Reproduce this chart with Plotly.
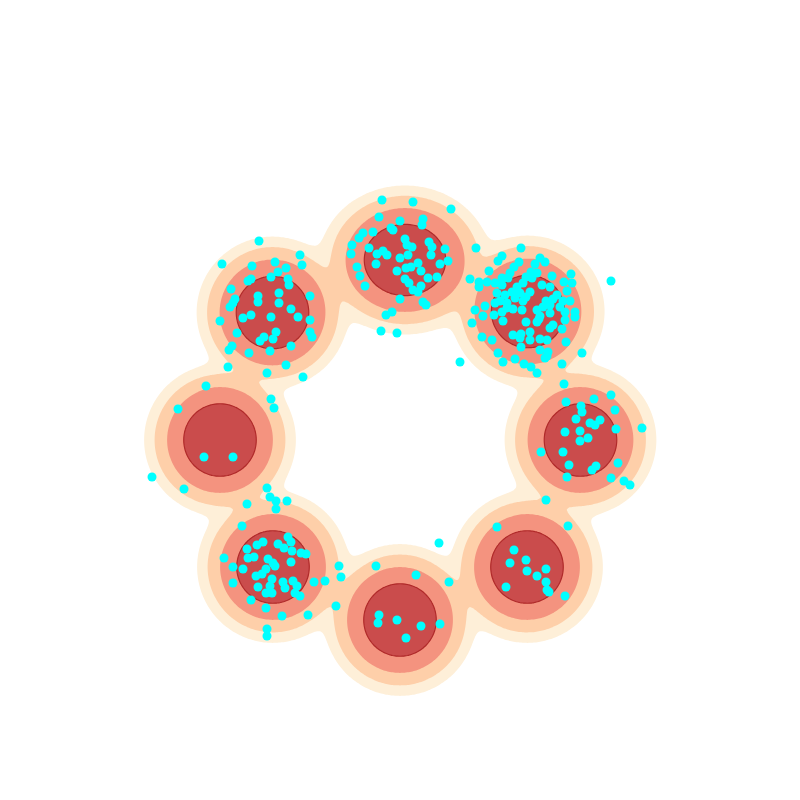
import numpy as np
import plotly.graph_objects as go

# ---- mixture components of the density (plot coordinates, y grows downward) ----
comp_cx = [405, 528, 580.5, 527, 400, 273, 220, 272.5]
comp_cy = [260, 311.5, 440, 567, 620, 567, 440, 312.5]
comp_sx = [24.7, 22.2, 22, 22, 22, 22, 22, 22]
comp_sy = [21.6, 22, 22, 22, 22, 22, 22, 22]

# log-density contour levels
level_start = -5.95
level_size = 1.53
level_end = -1.35
band_colors = ["#ffffff", "#feefd8", "#fecfa9", "#f4937f", "#ca4c4c"]

# ---- sample points ----
top_pts = [(382,200),(413,202),(451,209),(379,217),(400,221),(423,219),(422,225),(391,228),
           (393,230),(363,233),(373,232),(359,238),(405,239),(429,242),(352,245),(369,248),
           (407,245),(412,247),(432,247),(445,249),(383,251),(351,254),(377,254),(387,255),
           (408,255),(400,258),(431,255),(448,261),(440,264),(376,264),(418,263),(411,267),
           (406,268),(357,267),(421,271),(397,271),(360,276),(437,277),(428,278),(405,279),
           (409,283),(365,286),(421,286),(413,290),(418,292),(400,299),(423,302),(426,305),
           (392,312),(386,315),(381,331),(397,333)]
top_right_pts = [(476,248),(521,248),(502,256),(498,261),(540,258),(545,262),(519,262),(535,264),
                 (514,267),(489,271),(531,272),(510,273),(571,274),(470,279),(502,278),(526,277),
                 (537,273),(552,276),(479,282),(495,283),(479,287),(611,281),(564,282),(572,283),
                 (517,287),(523,283),(542,285),(550,287),(530,292),(520,293),(567,291),(497,293),
                 (505,295),(526,297),(515,298),(500,301),(546,301),(553,299),(570,301),(495,303),
                 (507,303),(523,301),(485,306),(560,307),(513,309),(522,310),(537,310),(543,307),
                 (475,310),(575,312),(502,312),(483,316),(494,315),(540,316),(550,313),(472,323),
                 (503,321),(526,322),(565,320),(575,317),(539,319),(550,328),(530,332),(562,329),
                 (513,335),(521,334),(492,340),(482,337),(540,339),(547,340),(530,340),(520,338),
                 (566,342),(521,347),(540,350),(498,353),(547,356),(582,353),(460,362),(503,362),
                 (515,359),(524,364),(531,367),(537,373),(562,364),
                 (487,282),(508,278),(532,278),(502,285),(512,292),(557,295),(563,301),(507,308),
                 (550,305),(565,312),(553,325),(537,322),(548,352),(545,358)]
right_pts = [(564,384),(611,395),(594,399),(566,402),(581,406),(582,412),(615,410),(576,419),
             (600,420),(590,423),(595,425),(642,428),(616,429),(565,432),(580,431),(588,438),
             (580,441),(541,452),(563,452),(618,463),(569,465),(596,466),(592,470),(567,477),
             (611,478),(624,481),(630,485),(546,500)]
bottom_right_pts = [(497,527),(568,526),(439,543),(514,550),(526,560),(510,563),(546,569),(527,571),
                    (537,576),(546,582),(449,582),(506,587),(547,590),(549,592),(565,596)]
bottom_pts = [(339,566),(376,566),(341,577),(325,581),(416,575),(336,606),(379,615),(378,623),
              (397,620),(421,626),(440,624),(406,638)]
bottom_left_pts = [(267,488),(270,497),(276,501),(287,501),(247,504),(276,509),(242,526),(288,537),
                   (263,542),(257,545),(278,544),(247,549),(291,542),(284,548),(292,551),(301,553),
                   (306,554),(224,558),(248,558),(254,557),(268,559),(273,563),(291,562),(233,567),
                   (243,569),(266,569),(275,566),(262,574),(256,576),(272,579),(233,583),(283,582),
                   (293,581),(314,582),(258,587),(270,586),(285,588),(297,586),(266,593),(272,593),
                   (295,593),(300,596),(251,600),(266,608),(282,616),(308,615),(267,629),(267,636)]
left_pts = [(178,409),(271,399),(274,408),(204,457),(233,457),(152,477),(184,489)]
top_left_pts = [(259,241),(300,255),(222,264),(252,266),(275,262),(302,265),(286,268),(278,272),
                (271,277),(248,281),(251,279),(288,279),(289,285),(231,289),(279,293),(258,296),
                (310,296),(258,302),(235,299),(233,303),(279,303),(230,307),(291,309),(243,318),
                (251,315),(271,317),(298,317),(220,321),(310,320),(276,332),(237,333),(310,332),
                (312,337),(264,337),(273,339),(260,341),(291,346),(232,346),(229,350),(270,351),
                (249,353),(228,367),(286,365),(267,373),(303,377),(206,386)]

all_pts = (top_pts + top_right_pts + right_pts + bottom_right_pts + bottom_pts
           + bottom_left_pts + left_pts + top_left_pts)
pts_x = [p[0] for p in all_pts]
pts_y = [p[1] for p in all_pts]

# ---- density grid ----
gx = np.arange(0, 820.1, 2.5)
gy = np.arange(0, 820.1, 2.5)
X, Y = np.meshgrid(gx, gy)
terms = np.stack([
    -((X - cx) ** 2 / (2 * sx ** 2) + (Y - cy) ** 2 / (2 * sy ** 2))
    for cx, cy, sx, sy in zip(comp_cx, comp_cy, comp_sx, comp_sy)
])
m = terms.max(axis=0)
logp = m + np.log(np.exp(terms - m).sum(axis=0))
logp = np.maximum(logp, -30)
Z = np.round(logp, 3)

cscale = [[i / (len(band_colors) - 1), c] for i, c in enumerate(band_colors)]

fig = go.Figure()
fig.add_trace(go.Contour(
    x=gx, y=gy, z=Z,
    autocontour=False,
    contours=dict(start=level_start, end=level_end, size=level_size, coloring="fill"),
    colorscale=cscale, showscale=False, line=dict(width=0), hoverinfo="skip",
))
fig.add_trace(go.Contour(
    x=gx, y=gy, z=Z,
    autocontour=False,
    contours=dict(start=level_start + 3 * level_size, end=level_start + 3 * level_size + 0.01,
                  size=1, coloring="none"),
    line=dict(color="#b02a2a", width=1.2), showscale=False, hoverinfo="skip",
))
fig.add_trace(go.Scatter(
    x=pts_x, y=pts_y, mode="markers",
    marker=dict(color="#00ffff", size=9, line=dict(width=0)),
    hoverinfo="skip", showlegend=False,
))
fig.update_layout(
    width=800, height=800,
    margin=dict(l=0, r=0, t=0, b=0),
    paper_bgcolor="white", plot_bgcolor="white",
    showlegend=False,
    xaxis=dict(range=[8, 808], visible=False, showgrid=False, zeroline=False),
    yaxis=dict(range=[808, 8], visible=False, showgrid=False, zeroline=False),
)
fig.write_html("out.html")
